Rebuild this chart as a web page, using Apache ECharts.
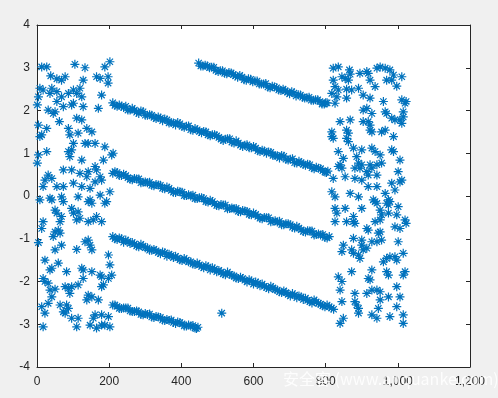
<!DOCTYPE html>
<html>
<head>
<meta charset="utf-8">
<script src="https://cdn.jsdelivr.net/npm/echarts@6/dist/echarts.min.js"></script>
<style>
html,body{margin:0;padding:0;background:#f0f0f0;}
#c{width:498px;height:398px;}
</style>
</head>
<body>
<div id="c"></div>
<script>
const xTicks = [0, 200, 400, 600, 800, 1000, 1200];
const yTicks = [-4, -3, -2, -1, 0, 1, 2, 3, 4];

const leftNoise = [
[13,3.02],[27,3.02],[105,3.08],[133,3.00],[188,3.02],[202,3.14],[38,2.81],[55,2.74],[68,2.71],[78,2.79],
[128,2.71],[165,2.79],[175,2.75],[197,2.79],[197,2.64],[8,2.52],[17,2.48],[41,2.52],[36,2.40],[55,2.44],
[4,2.32],[1,2.13],[68,2.32],[87,2.40],[101,2.48],[110,2.40],[119,2.52],[124,2.32],[101,2.17],[96,2.13],
[55,2.21],[73,2.09],[128,2.09],[170,2.05],[179,2.36],[31,2.01],[45,1.93],[50,1.97],[62,1.74],[110,1.82],
[124,1.78],[4,1.66],[27,1.58],[8,1.39],[13,1.43],[87,1.58],[91,1.43],[114,1.47],[138,1.58],[152,1.50],
[101,1.23],[96,1.08],[87,1.04],[91,0.92],[133,1.23],[142,1.23],[161,1.23],[188,1.15],[207,0.96],[211,1.00],
[4,0.96],[1,0.77],[27,1.04],[124,0.84],[184,0.84],[161,0.69],[165,0.61],[73,0.61],[96,0.61],[31,0.49],
[41,0.41],[22,0.37],[119,0.53],[142,0.57],[138,0.45],[175,0.45],[179,0.37],[161,0.33],[17,0.22],[55,0.22],
[73,0.22],[101,0.30],[124,0.22],[147,0.18],[202,0.10],
[8,-0.09],[36,-0.05],[41,-0.09],[68,-0.02],[73,-0.13],[114,-0.02],[142,-0.13],[152,-0.17],[147,-0.09],[175,0.02],
[188,-0.17],[193,-0.13],[50,-0.33],[55,-0.40],[68,-0.48],[64,-0.60],[96,-0.29],[101,-0.40],[114,-0.37],[119,-0.52],
[110,-0.56],[142,-0.60],[156,-0.56],[165,-0.48],[179,-0.60],[17,-0.60],[13,-0.76],[50,-0.84],[59,-0.80],[64,-0.87],
[45,-0.95],[4,-1.09],[68,-1.15],[50,-1.26],[110,-1.25],[133,-1.07],[142,-1.03],[147,-1.15],[152,-1.26],[198,-1.38],
[22,-1.50],[41,-1.69],[36,-1.73],[59,-1.57],[82,-1.77],[124,-1.69],[128,-1.73],[128,-1.93],[152,-1.77],[175,-1.85],
[179,-1.89],[198,-1.93],[207,-1.85],[202,-1.61],[17,-1.93],[22,-2.00],[31,-2.04],[179,-2.12],[184,-2.08],[114,-2.08],
[78,-2.12],[87,-2.16],[91,-2.28],[96,-2.12],[36,-2.20],[50,-2.18],[41,-2.36],[142,-2.32],[152,-2.36],[138,-2.43],
[170,-2.43],[13,-2.59],[31,-2.51],[22,-2.74],[64,-2.55],[82,-2.55],[87,-2.63],[73,-2.71],[78,-2.74],[96,-2.86],
[114,-2.86],[156,-2.86],[161,-2.78],[179,-2.78],[198,-2.82],[17,-3.06],[110,-3.06],[147,-3.02],[165,-3.09],[179,-3.02],
[188,-3.02],[202,-3.06]
];

const rightNoise = [
[821,2.99],[835,3.02],[866,2.95],[868,2.85],[895,2.87],[914,2.91],[918,2.87],[942,2.99],[951,3.02],[965,2.99],
[978,2.95],[988,2.83],[1011,2.79],[845,2.79],[854,2.75],[863,2.71],[821,2.71],[923,2.71],[969,2.71],[983,2.71],
[826,2.56],[835,2.48],[858,2.50],[872,2.48],[891,2.52],[937,2.56],[997,2.57],[817,2.40],[831,2.32],[826,2.17],
[858,2.29],[904,2.36],[923,2.29],[960,2.21],[1011,2.25],[1020,2.17],[1023,2.21],[904,2.01],[914,2.05],[928,1.93],
[965,1.97],[969,1.93],[1015,1.97],[840,1.74],[868,1.78],[904,1.74],[918,1.74],[923,1.66],[983,1.82],[992,1.78],
[1006,1.78],[1011,1.70],[1015,1.85],[817,1.50],[817,1.39],[821,1.35],[858,1.54],[863,1.47],[858,1.35],[863,1.27],
[923,1.54],[928,1.50],[955,1.50],[965,1.54],[988,1.39],[835,1.04],[849,0.88],[877,1.12],[900,1.08],[886,0.92],
[928,1.12],[937,1.04],[951,0.96],[983,1.08],[988,1.04],[1006,0.84],[840,0.73],[835,0.69],[845,0.65],[891,0.77],
[900,0.73],[895,0.65],[881,0.65],[923,0.73],[928,0.65],[942,0.73],[955,0.77],[821,0.41],[854,0.45],[881,0.41],
[900,0.37],[914,0.57],[918,0.49],[942,0.49],[1001,0.57],[983,0.30],[1006,0.33],[1011,0.37],[918,0.22],[942,0.22],
[965,0.06],[817,0.10],[826,-0.02],[868,0.06],[891,-0.02],[932,-0.09],[974,-0.09],[992,0.14],
[937,-0.13],[942,-0.17],[969,-0.17],[974,-0.21],[978,-0.13],[1001,-0.25],[826,-0.29],[831,-0.40],[854,-0.29],[900,-0.29],
[951,-0.33],[955,-0.44],[974,-0.40],[997,-0.44],[826,-0.60],[858,-0.60],[877,-0.48],[877,-0.60],[881,-0.64],[937,-0.60],
[951,-0.56],[914,-0.76],[918,-0.80],[951,-0.84],[946,-0.87],[992,-0.72],[1006,-0.76],[1020,-0.56],[1023,-0.64],[849,-1.15],
[845,-1.30],[872,-1.26],[877,-1.34],[877,-0.99],[900,-1.03],[900,-1.15],[928,-1.07],[942,-1.07],[955,-1.03],[1001,-1.07],
[891,-1.38],[895,-1.46],[904,-1.26],[914,-1.22],[960,-1.54],[969,-1.46],[978,-1.42],[992,-1.42],[997,-1.50],[1015,-1.34],
[872,-1.77],[928,-1.73],[969,-1.77],[974,-1.85],[1020,-1.77],[1015,-1.85],[835,-1.89],[845,-2.00],[918,-1.93],[923,-1.96],
[997,-2.12],[840,-2.20],[881,-2.28],[914,-2.28],[928,-2.20],[942,-2.20],[951,-2.24],[974,-2.36],[1006,-2.36],[845,-2.47],
[881,-2.47],[886,-2.55],[891,-2.63],[951,-2.43],[946,-2.63],[997,-2.59],[849,-2.86],[840,-2.98],[891,-2.74],[928,-2.78],
[942,-2.86],[978,-2.82],[1015,-2.78],[1015,-2.98]
];

const trackA = [
[210,2.18],[222,2.10],[234,2.10],[246,2.10],[258,2.01],[270,2.01],[282,1.93],[294,1.97],[306,1.89],[318,1.89],
[330,1.81],[342,1.82],[354,1.80],[366,1.71],[378,1.71],[390,1.72],[402,1.63],[414,1.63],[426,1.55],[438,1.58],
[450,1.51],[462,1.51],[474,1.43],[486,1.43],[498,1.41],[510,1.33],[522,1.33],[534,1.34],[546,1.24],[558,1.24],
[570,1.16],[582,1.20],[594,1.13],[606,1.12],[618,1.04],[630,1.05],[642,1.03],[654,0.95],[666,0.94],[678,0.95],
[690,0.86],[702,0.86],[714,0.78],[726,0.81],[738,0.74],[750,0.74],[762,0.66],[774,0.67],[786,0.64],[798,0.56],
[806,0.58],
[216,2.12],[228,2.13],[240,2.07],[252,2.01],[264,2.05],[276,1.96],[288,1.99],[300,1.89],[312,1.90],[324,1.84],
[336,1.85],[348,1.76],[360,1.78],[372,1.72],[384,1.66],[396,1.69],[408,1.61],[420,1.64],[432,1.54],[444,1.55],
[456,1.48],[468,1.50],[480,1.41],[492,1.43],[504,1.37],[516,1.30],[528,1.34],[540,1.26],[552,1.29],[564,1.19],
[576,1.19],[588,1.13],[600,1.16],[612,1.06],[624,1.07],[636,1.00],[648,1.02],[660,0.95],[672,0.89],[684,0.93],
[696,0.84],[708,0.87],[720,0.77],[732,0.78],[744,0.72],[756,0.73],[768,0.64],[780,0.65],[792,0.59],[802,0.55]
];

const trackB = [
[210,0.53],[222,0.55],[234,0.48],[246,0.48],[258,0.39],[270,0.41],[282,0.40],[294,0.32],[306,0.31],[318,0.25],
[330,0.27],[342,0.25],[354,0.17],[366,0.18],[378,0.09],[390,0.11],[402,0.09],[414,0.01],[426,0.00],[438,-0.06],
[450,-0.04],[462,-0.06],[474,-0.14],[486,-0.13],[498,-0.22],[510,-0.20],[522,-0.21],[534,-0.29],[546,-0.30],[558,-0.36],
[570,-0.34],[582,-0.36],[594,-0.44],[606,-0.43],[618,-0.52],[630,-0.50],[642,-0.51],[654,-0.59],[666,-0.61],[678,-0.67],
[690,-0.65],[702,-0.67],[714,-0.75],[726,-0.75],[738,-0.83],[750,-0.81],[762,-0.82],[774,-0.90],[786,-0.91],[798,-0.97],
[810,-0.95],
[216,0.57],[228,0.48],[240,0.51],[252,0.43],[264,0.38],[276,0.40],[288,0.31],[300,0.33],[312,0.32],[324,0.24],
[336,0.26],[348,0.18],[360,0.21],[372,0.13],[384,0.08],[396,0.10],[408,0.01],[420,0.03],[432,0.02],[444,-0.06],
[456,-0.04],[468,-0.13],[480,-0.10],[492,-0.18],[504,-0.23],[516,-0.21],[528,-0.30],[540,-0.28],[552,-0.29],[564,-0.37],
[576,-0.35],[588,-0.43],[600,-0.40],[612,-0.48],[624,-0.53],[636,-0.51],[648,-0.60],[660,-0.58],[672,-0.59],[684,-0.67],
[696,-0.65],[708,-0.73],[720,-0.71],[732,-0.79],[744,-0.84],[756,-0.82],[768,-0.91],[780,-0.89],[792,-0.90],[804,-0.98]
];

const trackC = [
[210,-0.95],[222,-1.02],[234,-1.00],[246,-1.03],[258,-1.11],[270,-1.12],[282,-1.19],[294,-1.17],[306,-1.21],[318,-1.27],
[330,-1.28],[342,-1.35],[354,-1.33],[366,-1.36],[378,-1.44],[390,-1.45],[402,-1.51],[414,-1.50],[426,-1.54],[438,-1.60],
[450,-1.61],[462,-1.68],[474,-1.66],[486,-1.68],[498,-1.77],[510,-1.78],[522,-1.84],[534,-1.83],[546,-1.87],[558,-1.93],
[570,-1.93],[582,-2.01],[594,-1.99],[606,-2.01],[618,-2.10],[630,-2.11],[642,-2.17],[654,-2.15],[666,-2.20],[678,-2.26],
[690,-2.26],[702,-2.34],[714,-2.32],[726,-2.34],[738,-2.42],[750,-2.44],[762,-2.50],[774,-2.48],[786,-2.53],[798,-2.59],
[810,-2.59],[822,-2.65],
[216,-1.00],[228,-0.98],[240,-1.08],[252,-1.06],[264,-1.09],[276,-1.17],[288,-1.13],[300,-1.21],[312,-1.27],[324,-1.25],
[336,-1.32],[348,-1.31],[360,-1.41],[372,-1.39],[384,-1.41],[396,-1.49],[408,-1.46],[420,-1.54],[432,-1.59],[444,-1.57],
[456,-1.65],[468,-1.63],[480,-1.73],[492,-1.71],[504,-1.74],[516,-1.82],[528,-1.78],[540,-1.86],[552,-1.92],[564,-1.90],
[576,-1.97],[588,-1.96],[600,-2.06],[612,-2.04],[624,-2.06],[636,-2.14],[648,-2.11],[660,-2.19],[672,-2.24],[684,-2.22],
[696,-2.30],[708,-2.28],[720,-2.38],[732,-2.36],[744,-2.39],[756,-2.47],[768,-2.43],[780,-2.51],[792,-2.57],[804,-2.55],
[816,-2.62]
];

const trackD = [
[210,-2.55],[222,-2.58],[234,-2.63],[246,-2.62],[258,-2.69],[270,-2.70],[282,-2.71],[294,-2.78],[306,-2.77],[318,-2.83],
[330,-2.82],[342,-2.84],[354,-2.91],[366,-2.91],[378,-2.96],[390,-2.95],[402,-2.99],[414,-3.04],[426,-3.04],[438,-3.09],
[446,-3.07],
[216,-2.55],[228,-2.63],[240,-2.62],[252,-2.62],[264,-2.70],[276,-2.69],[288,-2.77],[300,-2.75],[312,-2.76],[324,-2.84],
[336,-2.83],[348,-2.90],[360,-2.89],[372,-2.90],[384,-2.98],[396,-2.96],[408,-3.04],[420,-3.02],[432,-3.03],[442,-3.10]
];

const trackTop = [
[448,3.11],[460,3.04],[472,3.04],[484,3.01],[496,2.94],[508,2.93],[520,2.87],[532,2.89],[544,2.84],[556,2.78],
[568,2.78],[580,2.71],[592,2.73],[604,2.69],[616,2.62],[628,2.62],[640,2.55],[652,2.57],[664,2.53],[676,2.47],
[688,2.46],[700,2.39],[712,2.41],[724,2.37],[736,2.31],[748,2.30],[760,2.24],[772,2.25],[784,2.21],[796,2.15],
[804,2.18],
[454,3.04],[466,3.06],[478,3.00],[490,3.01],[502,2.91],[514,2.93],[526,2.86],[538,2.88],[550,2.81],[562,2.82],
[574,2.72],[586,2.74],[598,2.67],[610,2.69],[622,2.62],[634,2.63],[646,2.53],[658,2.55],[670,2.48],[682,2.50],
[694,2.43],[706,2.44],[718,2.34],[730,2.36],[742,2.29],[754,2.31],[766,2.24],[778,2.25],[790,2.15],[800,2.18]
];

const stray = [[512,-2.74]];

const allPoints = [].concat(leftNoise, trackA, trackB, trackC, trackD, trackTop, stray, rightNoise);

const chart = echarts.init(document.getElementById('c'), null, {renderer: 'canvas'});
const axisColor = '#262626';
const labelFont = {color: axisColor, fontSize: 12, fontFamily: 'Liberation Sans, Arial, sans-serif'};
const star = 'path://M0,4L8,4M4,0L4,8M1.2,1.2L6.8,6.8M6.8,1.2L1.2,6.8';

chart.setOption({
  animation: false,
  backgroundColor: '#f0f0f0',
  grid: {left: 37, top: 25, right: 28, bottom: 31, show: true, backgroundColor: '#ffffff', borderWidth: 0, containLabel: false},
  xAxis: [
    {type: 'value', min: xTicks[0], max: xTicks[xTicks.length - 1], interval: 200, position: 'bottom',
     axisLine: {show: true, onZero: false, lineStyle: {color: axisColor, width: 1}},
     axisTick: {show: true, inside: true, length: 4, lineStyle: {color: axisColor}},
     axisLabel: Object.assign({margin: 9}, labelFont), splitLine: {show: false}},
    {type: 'value', min: xTicks[0], max: xTicks[xTicks.length - 1], interval: 200, position: 'top',
     axisLine: {show: true, onZero: false, lineStyle: {color: axisColor, width: 1}},
     axisTick: {show: true, inside: true, length: 4, lineStyle: {color: axisColor}},
     axisLabel: {show: false}, splitLine: {show: false}}
  ],
  yAxis: [
    {type: 'value', min: yTicks[0], max: yTicks[yTicks.length - 1], interval: 1, position: 'left',
     axisLine: {show: true, onZero: false, lineStyle: {color: axisColor, width: 1}},
     axisTick: {show: true, inside: true, length: 4, lineStyle: {color: axisColor}},
     axisLabel: Object.assign({margin: 7, padding: [4, 0, 0, 0]}, labelFont), splitLine: {show: false}},
    {type: 'value', min: yTicks[0], max: yTicks[yTicks.length - 1], interval: 1, position: 'right',
     axisLine: {show: true, onZero: false, lineStyle: {color: axisColor, width: 1}},
     axisTick: {show: true, inside: true, length: 4, lineStyle: {color: axisColor}},
     axisLabel: {show: false}, splitLine: {show: false}}
  ],
  series: [{
    type: 'scatter',
    data: allPoints,
    symbol: star,
    symbolSize: 9,
    itemStyle: {color: 'rgba(0,0,0,0)', borderColor: '#0072BD', borderWidth: 1.2, opacity: 1},
    emphasis: {disabled: true},
    silent: true
  }],
  graphic: [{
    type: 'text', left: 283, top: 371, z: 100, silent: true,
    style: {text: '安全客 (www.anquanke.com)', fill: 'rgba(255,255,255,0.85)', fontSize: 16,
            fontFamily: 'Noto Sans CJK SC, Noto Sans, sans-serif'}
  }]
});
</script>
</body>
</html>
